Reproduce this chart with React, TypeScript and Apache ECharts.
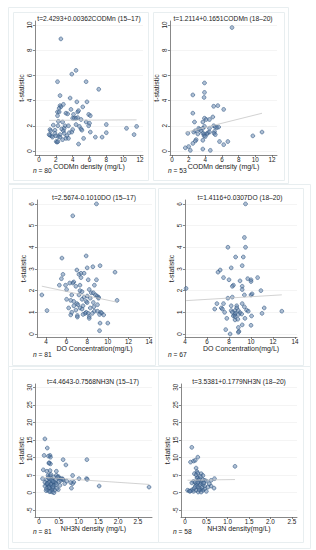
import React, { useEffect, useRef } from "react";
import * as echarts from "echarts";

// ---------- data ----------
const titles = [
  "t=2.4293+0.00362CODMn (15\u201317)",
  "t=1.2114+0.1651CODMn (18\u201320)",
  "t=2.5674-0.1010DO (15\u201317)",
  "t=1.4116+0.0307DO (18\u201320)",
  "t=4.4643-0.7568NH3N (15\u201317)",
  "t=3.5381+0.1779NH3N (18\u201320)",
];
const xNames = [
  "CODMn density (mg/L)",
  "CODMn density (mg/L)",
  "DO Concentration(mg/L)",
  "DO Concentration(mg/L)",
  "NH3N density (mg/L)",
  "NH3N density(mg/L)",
];
const yName = "t-statistic";
const nCounts = [80, 53, 81, 67, 81, 58];
const intercepts = [2.4293, 1.2114, 2.5674, 1.4116, 4.4643, 3.5381];
const slopes = [0.00362, 0.1651, -0.101, 0.0307, -0.7568, 0.1779];

const xTicksCOD = [0, 2, 4, 6, 8, 10, 12];
const xTicksDO = [4, 6, 8, 10, 12, 14];
const xTicksNH = [0, 0.5, 1, 1.5, 2, 2.5];
const yTicksCOD = [0, 2, 4, 6, 8, 10];
const yTicksDO = [0, 1, 2, 3, 4, 5, 6];
const yTicksNH = [-5, 0, 5, 10, 15, 20, 25, 30];

const codmn1517 = [
  [2.6, 8.9], [4.4, 6.4], [3.9, 6.1], [2.2, 5.5], [5.6, 5.5], [7.1, 4.9], [2.5, 4.4], [3.7, 4.2], [4.5, 3.9], [5.7, 3.9],
  [2.5, 3.6], [2.6, 3.5], [2.4, 3.4], [2.9, 3.7], [5.2, 3.5], [3.8, 3.3], [2.2, 3.1], [2.4, 3.1], [3.2, 3.0], [3.4, 2.95],
  [4.1, 2.9], [4.6, 3.1], [4.7, 3.2], [5.9, 2.9], [6.1, 2.8], [4.0, 2.6], [4.2, 2.6], [4.4, 2.6], [4.6, 2.65], [5.0, 2.5],
  [2.2, 2.8], [2.3, 2.35], [5.6, 2.3], [6.0, 2.2], [2.8, 2.3], [1.7, 2.05], [2.25, 2.0], [3.1, 2.0], [3.5, 2.0], [4.8, 1.95],
  [5.9, 2.0], [8.0, 2.1], [11.6, 1.95], [10.4, 1.8], [1.3, 1.7], [1.9, 1.65], [2.7, 1.75], [2.9, 1.6], [4.0, 1.7], [5.0, 1.75],
  [5.1, 1.65], [6.1, 1.5], [1.3, 1.25], [1.5, 1.2], [1.2, 1.3], [1.9, 1.4], [2.5, 1.3], [3.0, 1.4], [3.3, 1.2], [3.6, 1.45],
  [3.9, 1.5], [8.0, 1.45], [11.3, 1.3], [1.6, 1.1], [2.3, 1.15], [2.5, 1.1], [3.2, 1.0], [3.5, 1.0], [5.3, 1.0], [6.7, 1.1],
  [7.5, 1.1], [2.05, 0.75], [2.15, 0.7], [2.25, 0.75], [4.7, 0.55], [2.8, 0.9], [4.4, 2.1], [1.4, 1.6], [2.0, 1.2], [3.0, 1.8],
];
const codmn1820 = [
  [7.2, 9.8], [3.9, 5.4], [3.9, 4.65], [2.5, 4.45], [3.85, 4.25], [5.0, 3.55], [5.5, 3.6], [6.2, 3.3], [2.5, 3.0], [4.9, 2.7],
  [3.9, 2.6], [4.1, 2.5], [4.5, 2.5], [2.7, 2.3], [3.7, 2.3], [5.0, 2.0], [5.2, 1.9], [5.4, 1.85], [5.6, 1.9], [3.9, 1.95],
  [3.7, 1.8], [3.2, 1.8], [3.3, 1.7], [4.5, 1.8], [5.1, 1.55], [5.05, 1.4], [2.8, 1.6], [2.6, 1.5], [1.9, 1.4], [3.5, 1.6],
  [3.7, 1.4], [3.9, 1.35], [4.3, 1.45], [4.5, 1.5], [4.2, 1.35], [3.1, 1.35], [5.2, 1.3], [9.7, 1.2], [10.8, 1.5], [3.85, 1.2],
  [4.0, 1.15], [2.9, 0.9], [2.8, 0.8], [3.7, 0.85], [5.7, 0.75], [6.7, 0.75], [6.2, 0.5], [2.5, 0.6], [2.0, 0.35], [1.6, 0.25],
  [3.7, 0.15], [2.2, 0.05], [4.6, 0.05],
];
const do1517 = [
  [8.9, 6.0], [6.6, 5.45], [5.55, 3.5], [7.9, 3.6], [9.25, 3.15], [8.55, 3.1], [8.0, 3.05], [7.0, 2.95], [10.7, 2.85], [7.2, 2.75],
  [7.4, 2.8], [5.65, 2.75], [5.5, 2.55], [7.7, 2.8], [6.7, 2.4], [6.6, 2.35], [7.4, 2.6], [8.1, 2.5], [8.9, 2.5], [6.3, 2.35],
  [5.9, 2.25], [5.3, 2.25], [6.9, 2.2], [8.7, 2.25], [6.0, 2.05], [7.3, 2.0], [7.5, 1.95], [8.2, 2.05], [8.4, 1.9], [8.6, 1.9],
  [8.8, 1.8], [8.95, 1.75], [9.1, 1.7], [6.5, 1.8], [7.2, 1.8], [3.6, 1.8], [8.0, 1.75], [8.3, 1.65], [6.0, 1.6], [7.5, 1.6],
  [6.4, 1.55], [6.7, 1.5], [10.9, 1.55], [9.1, 1.65], [7.0, 1.4], [7.1, 1.35], [7.9, 1.5], [8.0, 1.45], [8.6, 1.45], [9.0, 1.35],
  [6.7, 1.3], [7.6, 1.3], [6.2, 1.2], [7.3, 1.2], [7.5, 1.15], [8.3, 1.2], [6.9, 1.1], [4.1, 1.08], [7.9, 1.0], [8.1, 0.95],
  [7.8, 0.95], [8.7, 1.05], [9.0, 1.05], [9.3, 1.0], [9.4, 0.97], [8.5, 0.95], [6.4, 0.88], [7.05, 0.85], [7.05, 0.78], [7.6, 0.9],
  [8.2, 0.8], [8.2, 0.72], [9.6, 0.88], [9.2, 0.9], [9.25, 0.5], [10.0, 0.5], [9.2, 0.15], [6.5, 1.0], [8.65, 1.25], [7.3, 2.25],
  [7.7, 1.7],
];
const do1820 = [
  [9.5, 6.0], [9.4, 4.45], [9.5, 4.0], [7.9, 4.0], [8.6, 3.55], [9.3, 3.55], [9.2, 3.15], [8.2, 3.05], [7.0, 2.85], [7.2, 2.95],
  [7.5, 2.6], [10.6, 2.6], [9.7, 2.55], [10.0, 2.5], [10.0, 2.42], [8.0, 2.5], [9.0, 2.45], [8.4, 2.25], [8.3, 2.2], [9.2, 2.2],
  [9.2, 2.05], [10.9, 2.0], [10.0, 1.8], [10.1, 1.85], [4.1, 2.1], [9.4, 1.8], [8.3, 1.7], [7.9, 1.65], [7.5, 1.4], [9.2, 1.4],
  [9.4, 1.25], [8.2, 1.3], [8.7, 1.3], [8.7, 1.2], [6.7, 1.15], [7.3, 1.2], [7.4, 1.15], [11.2, 1.2], [8.2, 1.08], [8.55, 1.08],
  [8.85, 1.08], [9.6, 1.1], [9.75, 1.05], [12.8, 1.05], [7.6, 1.0], [8.55, 0.95], [8.5, 0.88], [9.0, 0.98], [9.15, 0.92], [11.0, 0.95],
  [8.4, 0.83], [8.55, 0.8], [8.85, 0.9], [10.05, 0.83], [7.8, 0.72], [9.45, 0.72], [8.55, 0.65], [8.8, 0.68], [9.2, 0.42], [10.0, 0.4],
  [8.85, 0.3], [7.7, 0.2], [8.9, 0.12], [8.85, 0.08], [8.1, 0.0], [8.3, 1.0], [6.9, 1.4],
];
const nh3n1517 = [
  [0.15, 15.3], [0.21, 12.7], [0.13, 10.6], [0.28, 10.6], [0.29, 10.1], [0.26, 8.5], [0.29, 8.2], [0.61, 9.4], [1.21, 9.4], [0.68, 7.9],
  [0.11, 6.5], [0.2, 6.1], [0.28, 6.3], [0.44, 6.1], [0.23, 4.9], [0.28, 4.85], [0.38, 4.5], [0.44, 4.9], [0.49, 4.6], [0.51, 4.2],
  [0.85, 4.9], [0.32, 3.8], [0.34, 3.4], [0.27, 3.9], [0.57, 4.0], [0.61, 3.7], [1.01, 4.0], [1.2, 4.0], [1.22, 3.8], [0.19, 3.5],
  [0.15, 3.0], [0.4, 3.0], [0.43, 2.75], [0.51, 3.2], [0.88, 3.0], [0.85, 2.6], [0.65, 2.6], [0.19, 2.3], [0.23, 2.1], [0.26, 1.9],
  [0.32, 2.6], [0.34, 2.1], [0.38, 2.1], [0.44, 2.3], [0.53, 2.1], [1.52, 1.9], [0.82, 1.3], [2.78, 1.6], [0.19, 1.1], [0.22, 0.7],
  [0.18, 0.6], [0.28, 1.3], [0.32, 0.9], [0.29, 0.4], [0.36, 1.3], [0.4, 0.7], [0.49, 0.9], [0.34, 0.2], [0.38, 0.0], [0.15, 1.9],
  [0.09, 4.0], [0.23, 2.8], [0.26, 3.0], [0.32, 3.5], [0.24, 4.3], [0.3, 5.2], [0.42, 3.6], [0.25, 1.5], [0.3, 2.4], [0.36, 3.2],
  [0.47, 4.4], [0.55, 3.5], [0.7, 3.3], [0.8, 2.9], [0.25, 8.4], [0.24, 10.4], [0.35, 1.7], [0.45, 1.2], [0.27, 0.3], [0.6, 3.9],
  [0.21, 2.6],
];
const nh3n1820 = [
  [0.16, 12.9], [0.3, 10.1], [0.13, 8.7], [0.2, 9.0], [0.24, 9.2], [1.17, 7.5], [0.26, 7.0], [0.28, 6.0], [0.22, 5.4], [0.26, 5.1],
  [0.38, 5.4], [0.42, 4.9], [0.28, 4.2], [0.3, 4.3], [0.34, 4.0], [0.69, 4.0], [0.42, 3.7], [0.46, 3.5], [0.2, 3.2], [0.24, 3.0],
  [0.61, 3.5], [0.5, 3.3], [0.34, 3.0], [0.38, 2.7], [0.36, 2.4], [0.16, 2.8], [0.57, 2.5], [0.26, 2.3], [0.28, 2.1], [0.42, 2.3],
  [0.46, 1.9], [0.3, 1.6], [0.34, 1.3], [0.61, 1.9], [0.68, 1.3], [0.06, 0.7], [0.1, 0.5], [0.14, 0.6], [0.18, 0.9], [0.2, 0.4],
  [0.26, 0.7], [0.38, 0.9], [0.42, 0.7], [0.38, 0.2], [0.46, 1.1], [0.31, 0.2], [0.5, 0.4], [0.22, 1.3], [0.54, 1.6], [0.32, 3.6],
  [0.36, 4.6], [0.3, 2.9], [0.4, 1.5], [0.24, 1.8], [0.33, 0.8], [0.44, 2.8], [0.12, 0.4], [0.3, 5.6],
];

const panelData = [codmn1517, codmn1820, do1517, do1820, nh3n1517, nh3n1820];
const panelXTicks = [xTicksCOD, xTicksCOD, xTicksDO, xTicksDO, xTicksNH, xTicksNH];
const panelYTicks = [yTicksCOD, yTicksCOD, yTicksDO, yTicksDO, yTicksNH, yTicksNH];

// ---------- layout ----------
const layout = [
  { left: 35, top: 21, width: 108, height: 134, xMin: -0.475, xMax: 12.36, yMin: -0.32, yMax: 10.32 },
  { left: 170, top: 21, width: 107, height: 134, xMin: -0.24, xMax: 12.6, yMin: -0.32, yMax: 10.32 },
  { left: 37, top: 200, width: 115, height: 137, xMin: 3.13, xMax: 14.29, yMin: -0.14, yMax: 6.18 },
  { left: 185, top: 200, width: 112, height: 137, xMin: 4.0, xMax: 14.18, yMin: -0.14, yMax: 6.18 },
  { left: 35, top: 384, width: 117, height: 133, xMin: -0.1, xMax: 2.855, yMin: -6.9, yMax: 30.9 },
  { left: 181, top: 384, width: 116, height: 133, xMin: -0.093, xMax: 2.62, yMin: -6.9, yMax: 30.9 },
];
const titleCenters = [89, 223, 94, 240, 93, 239];
const nPos = [[33, 171], [168, 171], [33, 355], [168, 355], [33, 532], [173, 532]];

const FONT = "Liberation Sans, Arial, sans-serif";
const TXT = "#222";
const AXIS = "#555";

const frames = [
  [8, 7, 280, 176], [13, 12, 135, 168], [153, 12, 131, 168],
  [8, 184, 302, 182], [12, 188, 143, 177], [158, 188, 145, 177],
  [8, 366, 302, 182], [12, 369, 146, 173], [158, 369, 145, 173],
];

function fmtX(i: number) {
  return (v: number) => (i >= 4 ? (v === 0 ? "0" : v.toFixed(1)) : String(v));
}

export default function App() {
  const ref = useRef<HTMLDivElement>(null);
  useEffect(() => {
    if (!ref.current) return;
    const chart = echarts.init(ref.current, undefined, { renderer: "svg" });
    const grid: any[] = [];
    const xAxis: any[] = [];
    const yAxis: any[] = [];
    const series: any[] = [];
    const title: any[] = [];
    layout.forEach((g, i) => {
      grid.push({ left: g.left, top: g.top, width: g.width, height: g.height, containLabel: false });
      xAxis.push({
        gridIndex: i, type: "value", min: g.xMin, max: g.xMax,
        axisLine: { show: true, onZero: false, lineStyle: { color: AXIS, width: 0.7 } },
        axisTick: { show: true, length: 2, customValues: panelXTicks[i], lineStyle: { color: AXIS, width: 0.7 } },
        axisLabel: { customValues: panelXTicks[i], fontSize: 6.3, margin: 1.5, color: TXT, fontFamily: FONT, formatter: fmtX(i) },
        splitLine: { show: false },
        name: xNames[i], nameLocation: "middle", nameGap: 5.5,
        nameTextStyle: { fontSize: 7, color: TXT, fontFamily: FONT },
      });
      yAxis.push({
        gridIndex: i, type: "value", min: g.yMin, max: g.yMax,
        axisLine: { show: true, onZero: false, lineStyle: { color: AXIS, width: 0.7 } },
        axisTick: { show: true, length: 2, customValues: panelYTicks[i], lineStyle: { color: AXIS, width: 0.7 } },
        axisLabel: { customValues: panelYTicks[i], rotate: 90, fontSize: 6.3, margin: 3, color: TXT, fontFamily: FONT },
        splitLine: { show: true, lineStyle: { color: "#ececec", width: 0.6 } },
        name: yName, nameLocation: "middle", nameRotate: 90, nameGap: 10,
        nameTextStyle: { fontSize: 7, color: TXT, fontFamily: FONT },
      });
      const d = panelData[i];
      const xs = d.map((p) => p[0]);
      const x0 = Math.min(...xs);
      const x1 = Math.max(...xs);
      series.push({
        type: "scatter", xAxisIndex: i, yAxisIndex: i, data: d, symbolSize: 3.8,
        itemStyle: { color: "rgba(100,132,172,0.65)", borderColor: "#2f5580", borderWidth: 0.7 },
        z: 2,
      });
      series.push({
        type: "line", xAxisIndex: i, yAxisIndex: i, showSymbol: false,
        data: [[x0, intercepts[i] + slopes[i] * x0], [x1, intercepts[i] + slopes[i] * x1]],
        lineStyle: { color: "#c6c6c6", width: 0.8 }, z: 3,
      });
      title.push({
        text: titles[i], left: titleCenters[i], top: g.top - 6.5, textAlign: "center", padding: 0,
        textStyle: { fontSize: 6.7, fontWeight: "normal", color: TXT, fontFamily: FONT },
      });
      title.push({
        text: "{i|n} = " + nCounts[i], left: nPos[i][0], top: nPos[i][1] - 4, padding: 0,
        textStyle: {
          fontSize: 6.7, fontWeight: "normal", color: TXT, fontFamily: FONT,
          rich: { i: { fontStyle: "italic", fontSize: 6.7, color: TXT, fontFamily: FONT } },
        },
      });
    });
    const graphic = frames.map((f) => ({
      type: "rect", shape: { x: f[0] + 0.5, y: f[1] + 0.5, width: f[2], height: f[3] },
      style: { fill: "none", stroke: "#e8eef0", lineWidth: 1 }, silent: true, z: -10,
    }));
    chart.setOption({
      animation: false, backgroundColor: "#fff",
      grid, xAxis, yAxis, series, title, graphic,
    });
    return () => chart.dispose();
  }, []);
  return <div ref={ref} style={{ position: "absolute", left: 0, top: 0, width: 316, height: 550 }} />;
}
